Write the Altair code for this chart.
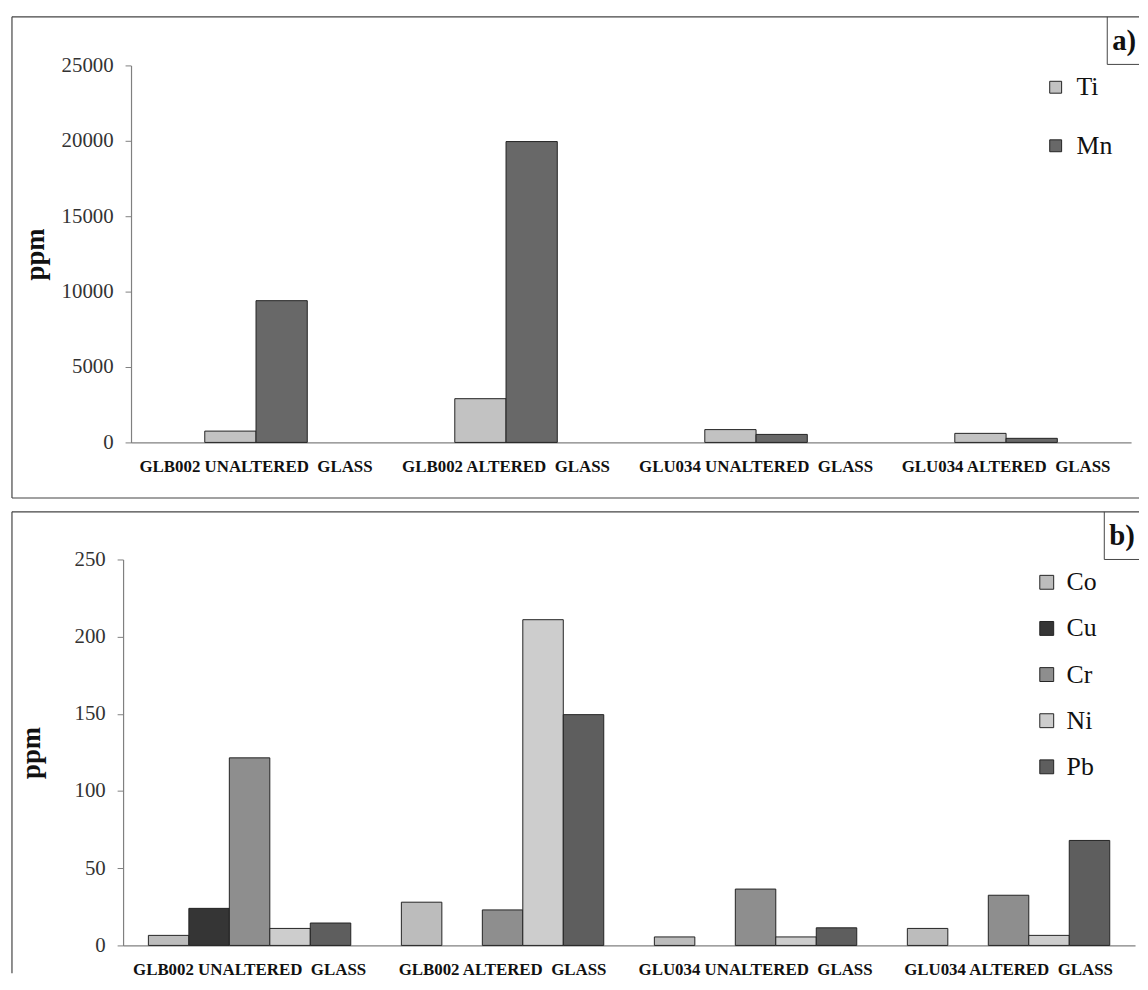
import altair as alt
import pandas as pd

FONT = "Liberation Serif"

# ---------------- data ----------------
samples = [
    "GLB002 UNALTERED\u00a0 GLASS",
    "GLB002 ALTERED\u00a0 GLASS",
    "GLU034 UNALTERED\u00a0 GLASS",
    "GLU034 ALTERED\u00a0 GLASS",
]

elements_a = ["Ti", "Mn"]
ti = [750, 2900, 850, 600]
mn = [9400, 19950, 530, 270]

elements_b = ["Co", "Cu", "Cr", "Ni", "Pb"]
co = [6.5, 28, 5.5, 11]
cu = [24, 0, 0, 0]
cr = [121.5, 23, 36.5, 32.5]
ni = [11, 211, 5.5, 6.5]
pb = [14.5, 149.5, 11.4, 68]

ticks_a = [0, 5000, 10000, 15000, 20000, 25000]
ticks_b = [0, 50, 100, 150, 200, 250]

fills_a = ["#c2c2c2", "#686868"]
fills_b = ["#bcbcbc", "#353535", "#8e8e8e", "#cdcdcd", "#5e5e5e"]

rows_a = []
for el, vals in zip(elements_a, [ti, mn]):
    for s, v in zip(samples, vals):
        rows_a.append({"sample": s, "element": el, "value": v})
df_a = pd.DataFrame(rows_a)

rows_b = []
for el, vals in zip(elements_b, [co, cu, cr, ni, pb]):
    for s, v in zip(samples, vals):
        rows_b.append({"sample": s, "elem": el, "value": v})
df_b = pd.DataFrame(rows_b)

one = pd.DataFrame({"k": [0]})

# both plot areas start at the same x; panel a's axes are shifted right by 8 px
SHIFT_A = 8
W_A, H_A = 1016, 380
W_B, H_B = 1020, 389
LEFT = -112
RIGHT = 1024


def x_axis():
    return alt.Axis(title=None, labelAngle=0, ticks=False, labelPadding=16,
                    labelLimit=0,
                    labelFont=FONT, labelFontSize=17, labelFontWeight="bold",
                    labelColor="#111", domainColor="#808080", domainWidth=1.2)


def y_axis(vals, title_pad, offset):
    return alt.Axis(values=vals, format="d", title="ppm", grid=False, offset=offset,
                    tickSize=6, tickColor="#808080", domainColor="#808080",
                    domainWidth=1.2, labelPadding=12, labelFont=FONT,
                    labelFontSize=21, labelColor="#333",
                    titleFont=FONT, titleFontSize=27, titleFontWeight="bold",
                    titleColor="#111", titlePadding=title_pad)


def frame(top, bottom_left, bottom_line, box_left, box_bottom, label, lab_x, lab_y):
    base = alt.Chart(one)
    parts = [
        base.mark_rule(color="#444", strokeWidth=1.2).encode(
            x=alt.value(LEFT), x2=alt.value(RIGHT), y=alt.value(top)),
        base.mark_rule(color="#444", strokeWidth=1.2).encode(
            x=alt.value(LEFT), y=alt.value(top), y2=alt.value(bottom_left)),
        base.mark_rule(color="#444", strokeWidth=1).encode(
            x=alt.value(box_left), y=alt.value(top), y2=alt.value(box_bottom)),
        base.mark_rule(color="#444", strokeWidth=1).encode(
            x=alt.value(box_left), x2=alt.value(RIGHT), y=alt.value(box_bottom)),
        base.mark_text(font=FONT, fontSize=29, fontWeight="bold", color="#111",
                       align="center", baseline="middle").encode(
            x=alt.value(lab_x), y=alt.value(lab_y), text=alt.value(label)),
    ]
    if bottom_line is not None:
        parts.append(base.mark_rule(color="#444", strokeWidth=1.2).encode(
            x=alt.value(LEFT), x2=alt.value(RIGHT), y=alt.value(bottom_line)))
    return parts


# ---------------- panel a ----------------
bars_a = alt.Chart(df_a).mark_bar(stroke="#222", strokeWidth=1).encode(
    x=alt.X("sample:N", sort=samples,
            scale=alt.Scale(range=[SHIFT_A, W_A], paddingInner=0.59, paddingOuter=0.295),
            axis=x_axis()),
    xOffset=alt.XOffset("element:N", sort=elements_a,
                        scale=alt.Scale(domain=elements_a, paddingInner=0, paddingOuter=0)),
    y=alt.Y("value:Q", scale=alt.Scale(domain=[0, 25000]), axis=y_axis(ticks_a, 12, -SHIFT_A)),
    fill=alt.Fill("element:N", scale=alt.Scale(domain=elements_a, range=fills_a),
                  legend=alt.Legend(title=None, orient="none", legendX=927, legendY=9,
                                    symbolType="square", symbolSize=144,
                                    symbolStrokeColor="#222", symbolStrokeWidth=1,
                                    labelFont=FONT, labelFontSize=26, labelColor="#111",
                                    labelOffset=8, rowPadding=33)),
)

panel_a = alt.layer(
    bars_a,
    *frame(-49, 436, 436, 992, -1, "a)", 1009, -25),
).properties(width=W_A, height=H_A)

# ---------------- panel b ----------------
bars_b = alt.Chart(df_b).transform_filter("datum.value > 0").mark_bar(
    stroke="#222", strokeWidth=1).encode(
    x=alt.X("sample:N", sort=samples,
            scale=alt.Scale(domain=samples, paddingInner=0.2, paddingOuter=0.1), axis=x_axis()),
    xOffset=alt.XOffset("elem:N", sort=elements_b,
                        scale=alt.Scale(domain=elements_b, paddingInner=0, paddingOuter=0)),
    y=alt.Y("value:Q", scale=alt.Scale(domain=[0, 250]), axis=y_axis(ticks_b, 29, 0)),
    fill=alt.Fill("elem:N", scale=alt.Scale(domain=elements_b, range=fills_b),
                  legend=alt.Legend(title=None, orient="none", legendX=918, legendY=10,
                                    symbolType="square", symbolSize=196,
                                    symbolStrokeColor="#222", symbolStrokeWidth=1,
                                    labelFont=FONT, labelFontSize=26, labelColor="#111",
                                    labelOffset=7, rowPadding=20.5)),
)

panel_b = alt.layer(
    bars_b,
    *frame(-48, 417, None, 989, 0, "b)", 1007, -24),
).properties(width=W_B, height=H_B)

chart = alt.vconcat(panel_a, panel_b, spacing=12).resolve_scale(
    x="independent", y="independent", fill="independent", xOffset="independent"
).resolve_legend(fill="independent").properties(
    padding={"left": 3, "top": 4, "right": 0, "bottom": 0},
    background="white",
).configure_view(stroke=None)

chart.save("out.html", embed_options={"renderer": "svg", "actions": False})
